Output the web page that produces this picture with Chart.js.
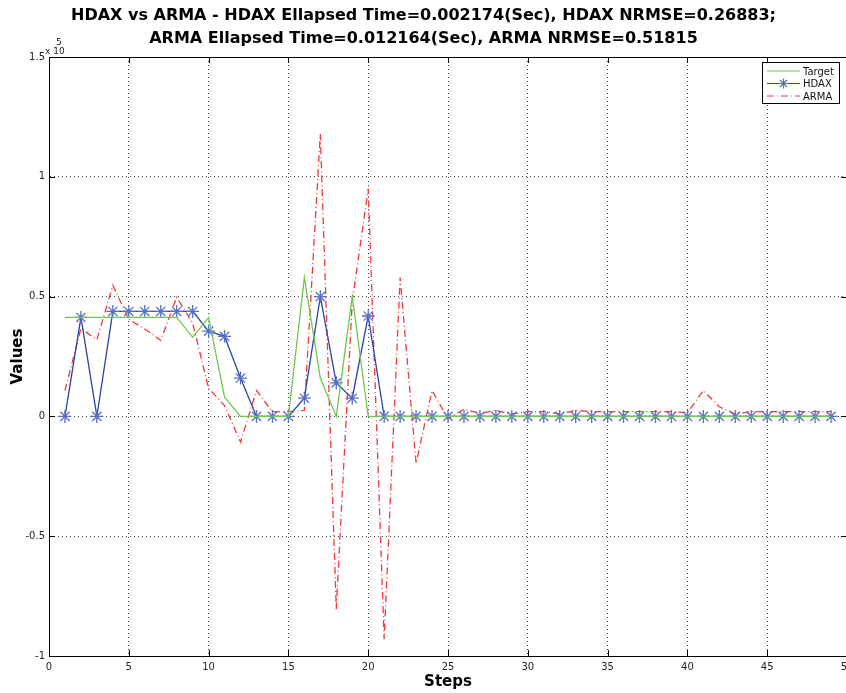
<!DOCTYPE html>
<html>
<head>
<meta charset="utf-8">
<script src="https://cdn.jsdelivr.net/npm/chart.js@4.4.1/dist/chart.umd.min.js"></script>
<style>
  html, body { margin: 0; padding: 0; background: #fff; }
  #wrap { width: 846px; height: 693px; overflow: hidden; position: relative; }
  #wrap canvas { position: absolute; left: 0; top: 0; }
</style>
</head>
<body>
<div id="wrap"><canvas id="myChart" width="866" height="693"></canvas></div>
<script>
const steps = [1, 2, 3, 4, 5, 6, 7, 8, 9, 10, 11, 12, 13, 14, 15, 16, 17, 18, 19, 20,
  21, 22, 23, 24, 25, 26, 27, 28, 29, 30, 31, 32, 33, 34, 35, 36, 37, 38, 39, 40,
  41, 42, 43, 44, 45, 46, 47, 48, 49];

const target = [41300, 41300, 41300, 41300, 41300, 41300, 41300, 41300, 33000, 41300,
  8000, 0, 0, 0, 0, 58000, 16000, 0, 50000, 0,
  0, 0, 0, 0, 0, 0, 0, 0, 0, 0, 0, 0, 0, 0, 0, 0, 0, 0, 0, 0,
  0, 0, 0, 0, 0, 0, 0, 0, 0];

const hdax = [0, 41300, 0, 43800, 43800, 43800, 43800, 43800, 43800, 35600,
  33400, 16000, 0, 0, 0, 7600, 50000, 14000, 7600, 41900,
  0, 0, 0, 0, 0, 0, 0, 0, 0, 0, 0, 0, 0, 0, 0, 0, 0, 0, 0, 0,
  0, 0, 0, 0, 0, 0, 0, 0, 0];

const arma = [10800, 36700, 32000, 54700, 40500, 36500, 31700, 49700, 39000, 11700,
  4500, -10700, 10800, 2000, 2000, 2500, 118000, -80500, 48000, 95000,
  -93000, 58000, -19600, 10800, -1000, 3000, 1200, 2500, 1000, 2000,
  2000, 1000, 2500, 2000, 2000, 2000, 2000, 2000, 2000, 1500,
  10800, 4000, 1000, 2000, 2000, 2000, 2000, 2000, 2000];

const xTicks = [0, 5, 10, 15, 20, 25, 30, 35, 40, 45, 50];
const yTicks = [-100000, -50000, 0, 50000, 100000, 150000];

const titleLines = [
  "HDAX vs ARMA - HDAX Ellapsed Time=0.002174(Sec), HDAX NRMSE=0.26883;",
  "ARMA Ellapsed Time=0.012164(Sec), ARMA NRMSE=0.51815",
];

const toPoints = (vals) => steps.map((s, i) => ({ x: s, y: vals[i] }));

const GREEN = "#6cc84e";
const BLUE = "#2c42a6";
const STAR = "#5a6fc4";
const RED = "#ee3a3a";

// matlab style box, inner ticks, exponent and legend
const matlabBits = {
  id: "matlabBits",
  afterDraw(chart) {
    const ctx = chart.ctx;
    const a = chart.chartArea;
    const xs = chart.scales.x;
    const ys = chart.scales.y;
    ctx.save();
    ctx.strokeStyle = "#000";
    ctx.lineWidth = 1;
    ctx.strokeRect(a.left + 0.5, a.top + 0.5, a.right - a.left - 1, a.bottom - a.top);

    ctx.beginPath();
    xTicks.forEach((t) => {
      const px = Math.round(xs.getPixelForValue(t)) + 0.5;
      ctx.moveTo(px, a.bottom);
      ctx.lineTo(px, a.bottom - 6);
      ctx.moveTo(px, a.top);
      ctx.lineTo(px, a.top + 6);
    });
    yTicks.forEach((t) => {
      const py = Math.round(ys.getPixelForValue(t)) + 0.5;
      ctx.moveTo(a.left, py);
      ctx.lineTo(a.left + 6, py);
      ctx.moveTo(a.right, py);
      ctx.lineTo(a.right - 6, py);
    });
    ctx.stroke();

    // exponent label
    ctx.fillStyle = "#222";
    ctx.font = "9px 'DejaVu Sans'";
    ctx.textAlign = "left";
    ctx.textBaseline = "alphabetic";
    ctx.fillText("x 10", 45, 54);
    ctx.fillText("5", 56, 45);

    // legend
    const lx = 762, ly = 62, lw = 77, lh = 41;
    ctx.fillStyle = "#fff";
    ctx.fillRect(lx, ly, lw, lh);
    ctx.strokeStyle = "#000";
    ctx.strokeRect(lx + 0.5, ly + 0.5, lw, lh);
    const items = [
      { label: "Target", color: GREEN, dash: [], star: false },
      { label: "HDAX", color: BLUE, dash: [], star: true },
      { label: "ARMA", color: RED, dash: [7, 3, 1, 3], star: false },
    ];
    ctx.font = "10px 'DejaVu Sans'";
    ctx.textBaseline = "middle";
    items.forEach((it, i) => {
      const yy = ly + 9 + i * 12.5;
      ctx.strokeStyle = it.color;
      ctx.lineWidth = 1.2;
      ctx.setLineDash(it.dash);
      ctx.beginPath();
      ctx.moveTo(lx + 5, yy);
      ctx.lineTo(lx + 38, yy);
      ctx.stroke();
      ctx.setLineDash([]);
      if (it.star) {
        ctx.strokeStyle = STAR;
        const cx = lx + 21.5, r = 5;
        ctx.beginPath();
        ctx.moveTo(cx - r, yy); ctx.lineTo(cx + r, yy);
        ctx.moveTo(cx, yy - r); ctx.lineTo(cx, yy + r);
        ctx.moveTo(cx - r * 0.7, yy - r * 0.7); ctx.lineTo(cx + r * 0.7, yy + r * 0.7);
        ctx.moveTo(cx - r * 0.7, yy + r * 0.7); ctx.lineTo(cx + r * 0.7, yy - r * 0.7);
        ctx.stroke();
      }
      ctx.fillStyle = "#111";
      ctx.fillText(it.label, lx + 41, yy + 1);
    });
    ctx.restore();
  },
};

const ctx = document.getElementById("myChart").getContext("2d");
new Chart(ctx, {
  type: "line",
  data: {
    datasets: [
      {
        label: "Target",
        data: toPoints(target),
        borderColor: GREEN,
        borderWidth: 1.3,
        pointRadius: 0,
        tension: 0,
      },
      {
        label: "HDAX",
        data: toPoints(hdax),
        borderColor: BLUE,
        borderWidth: 1.3,
        pointStyle: "star",
        pointRadius: 6.5,
        pointBorderColor: STAR,
        pointBackgroundColor: STAR,
        pointBorderWidth: 1.3,
        tension: 0,
      },
      {
        label: "ARMA",
        data: toPoints(arma),
        borderColor: RED,
        borderWidth: 1.3,
        borderDash: [7, 3, 1, 3],
        pointRadius: 0,
        tension: 0,
      },
    ],
  },
  options: {
    responsive: false,
    animation: false,
    clip: false,
    layout: { padding: { left: 0, right: 19, top: 0, bottom: 0 } },
    plugins: {
      legend: { display: false },
      tooltip: { enabled: false },
      title: {
        display: true,
        text: titleLines,
        color: "#000",
        font: { family: "'DejaVu Sans'", size: 16, weight: "bold", lineHeight: 1.4 },
        padding: { top: 5, bottom: 7.2 },
      },
    },
    scales: {
      x: {
        type: "linear",
        min: 0,
        max: 50,
        afterBuildTicks: (s) => { s.ticks = xTicks.map((v) => ({ value: v })); },
        afterFit: (s) => { s.height = 37; },
        ticks: { color: "#222", font: { family: "'DejaVu Sans'", size: 10 }, padding: 5, maxRotation: 0 },
        grid: { color: "#444", drawTicks: false },
        border: { display: true, color: "#000", dash: [1, 3] },
        title: {
          display: true,
          text: "Steps",
          color: "#000",
          font: { family: "'DejaVu Sans'", size: 15, weight: "bold" },
          padding: { top: 0, bottom: 2 },
        },
      },
      y: {
        min: -100000,
        max: 150000,
        afterBuildTicks: (s) => { s.ticks = yTicks.map((v) => ({ value: v })); },
        afterFit: (s) => { s.width = 49; },
        ticks: {
          color: "#222",
          font: { family: "'DejaVu Sans'", size: 10 },
          padding: 4,
          callback: (v) => String(v / 100000),
        },
        grid: { color: "#444", drawTicks: false },
        border: { display: true, color: "#000", dash: [1, 3] },
        title: {
          display: true,
          text: "Values",
          color: "#000",
          font: { family: "'DejaVu Sans'", size: 15, weight: "bold" },
          padding: { top: 9, bottom: 0 },
        },
      },
    },
  },
  plugins: [matlabBits],
});
</script>
</body>
</html>
